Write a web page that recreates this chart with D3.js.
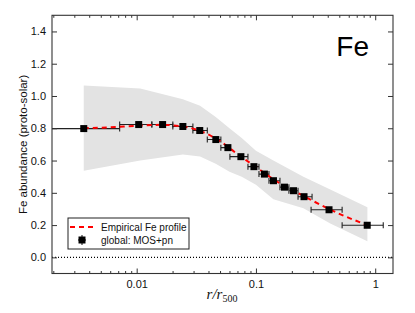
<!DOCTYPE html>
<html>
<head>
<meta charset="utf-8">
<script src="https://cdn.jsdelivr.net/npm/d3@7/dist/d3.min.js"></script>
<style>
  body { margin: 0; background: #fff; }
  svg { display: block; font-family: "Liberation Sans", Arial, sans-serif; }
  .axis path { stroke: #333; stroke-width: 1.1; }
  .axis line { stroke: #333; }
  .axis text { fill: #111; font-size: 11px; }
</style>
</head>
<body>
<svg id="chart" width="415" height="313"></svg>
<script>
// radial bins (r/r500) and Fe abundance, global MOS+pn
const binR   = [0.0036, 0.0104, 0.0165, 0.0244, 0.0338, 0.0461, 0.0582, 0.0748, 0.0962, 0.1178, 0.1403, 0.1735, 0.2066, 0.253, 0.410, 0.857];
const binLo  = [0.0010, 0.0072, 0.0134, 0.0201, 0.0296, 0.0391, 0.0508, 0.0605, 0.0857, 0.106, 0.1286, 0.159, 0.189, 0.2254, 0.290, 0.528];
const binHi  = [0.0072, 0.0134, 0.0201, 0.0296, 0.0391, 0.0508, 0.0605, 0.0857, 0.106, 0.1286, 0.159, 0.189, 0.2254, 0.2955, 0.528, 1.168];
const feVal  = [0.798, 0.823, 0.823, 0.811, 0.786, 0.730, 0.680, 0.624, 0.562, 0.516, 0.475, 0.435, 0.413, 0.376, 0.295, 0.199];
const feErr  = [0.012, 0.010, 0.010, 0.010, 0.010, 0.010, 0.010, 0.010, 0.010, 0.010, 0.010, 0.010, 0.010, 0.010, 0.012, 0.015];

// scatter envelope
const bandR  = [0.0036, 0.0107, 0.0244, 0.034, 0.046, 0.060, 0.076, 0.100, 0.140, 0.250, 0.420, 0.860];
const bandHi = [1.065, 1.047, 0.980, 0.940, 0.870, 0.800, 0.740, 0.660, 0.600, 0.500, 0.420, 0.310];
const bandLo = [0.537, 0.600, 0.637, 0.625, 0.580, 0.530, 0.500, 0.450, 0.360, 0.305, 0.210, 0.100];

// empirical profile
const profR  = [0.0036, 0.006, 0.010, 0.016, 0.025, 0.035, 0.050, 0.070, 0.100, 0.150, 0.200, 0.300, 0.500, 0.860];
const profV  = [0.800, 0.806, 0.815, 0.821, 0.810, 0.780, 0.720, 0.640, 0.560, 0.470, 0.420, 0.350, 0.270, 0.200];

const yTicks = [0.0, 0.2, 0.4, 0.6, 0.8, 1.0, 1.2, 1.4];
const xTicks = [0.01, 0.1, 1];

const svg = d3.select("#chart");
const L = 52, R = 393, T = 15.3, B = 273.5;

const x = d3.scaleLog().domain([0.00195, 1.41]).range([L, R]);
const y = d3.scaleLinear().domain([-0.1, 1.5]).range([B, T]);

const minor = [];
[0.001, 0.01, 0.1, 1].forEach(d => { for (let k = 1; k < 10; k++) { const v = d * k; if (v > 0.00195 && v < 1.41 && k > 1) minor.push(v); } });

const clip = svg.append("clipPath").attr("id", "clip")
  .append("rect").attr("x", L).attr("y", T).attr("width", R - L).attr("height", B - T);
const plot = svg.append("g").attr("clip-path", "url(#clip)");

// band
const area = d3.area()
  .x((d, i) => x(bandR[i])).y0((d, i) => y(bandLo[i])).y1((d, i) => y(bandHi[i]));
plot.append("path").datum(bandR).attr("d", area).attr("fill", "#e3e3e3").attr("stroke", "none");

// zero line
plot.append("line").attr("x1", L).attr("x2", R).attr("y1", y(0)).attr("y2", y(0))
  .attr("stroke", "#000").attr("stroke-width", 1.1).attr("stroke-dasharray", "1,2");

// error bars
const eb = plot.append("g").attr("stroke", "#222").attr("stroke-width", 1.1);
binR.forEach((r, i) => {
  const cy = y(feVal[i]);
  eb.append("line").attr("x1", x(binLo[i])).attr("x2", x(binHi[i])).attr("y1", cy).attr("y2", cy);
  eb.append("line").attr("x1", x(binLo[i])).attr("x2", x(binLo[i])).attr("y1", cy - 3).attr("y2", cy + 3);
  eb.append("line").attr("x1", x(binHi[i])).attr("x2", x(binHi[i])).attr("y1", cy - 3).attr("y2", cy + 3);
  eb.append("line").attr("x1", x(r)).attr("x2", x(r)).attr("y1", y(feVal[i] - feErr[i])).attr("y2", y(feVal[i] + feErr[i]));
});

// profile
const line = d3.line().x((d, i) => x(profR[i])).y((d, i) => y(profV[i])).curve(d3.curveMonotoneX);
plot.append("path").datum(profR).attr("d", line).attr("fill", "none")
  .attr("stroke", "#ff0000").attr("stroke-width", 2).attr("stroke-dasharray", "5,4");

// markers
plot.selectAll("rect.pt").data(binR).enter().append("rect").attr("class", "pt")
  .attr("x", d => x(d) - 3.5).attr("y", (d, i) => y(feVal[i]) - 3.5)
  .attr("width", 7).attr("height", 7).attr("fill", "#000");

// axes
const fmtX = d => d3.format("~g")(d);
svg.append("g").attr("class", "axis").attr("transform", `translate(0,${B})`)
  .call(d3.axisBottom(x).tickValues(xTicks).tickSize(-5).tickPadding(7).tickFormat(fmtX));
svg.append("g").attr("class", "axis").attr("transform", `translate(0,${B})`)
  .call(d3.axisBottom(x).tickValues(minor).tickSize(-2.5).tickFormat(""))
  .call(g => g.select(".domain").remove());
svg.append("g").attr("class", "axis").attr("transform", `translate(0,${T})`)
  .call(d3.axisTop(x).tickValues(xTicks).tickSize(-5).tickFormat(""));
svg.append("g").attr("class", "axis").attr("transform", `translate(0,${T})`)
  .call(d3.axisTop(x).tickValues(minor).tickSize(-2.5).tickFormat(""))
  .call(g => g.select(".domain").remove());
svg.append("g").attr("class", "axis").attr("transform", `translate(${L},0)`)
  .call(d3.axisLeft(y).tickValues(yTicks).tickSize(-5).tickPadding(6).tickFormat(d3.format(".1f")));
svg.append("g").attr("class", "axis").attr("transform", `translate(${R},0)`)
  .call(d3.axisRight(y).tickValues(yTicks).tickSize(-5).tickFormat(""));
svg.selectAll(".axis .domain").attr("d", null);
svg.append("rect").attr("x", L).attr("y", T).attr("width", R - L).attr("height", B - T)
  .attr("fill", "none").attr("stroke", "#333").attr("stroke-width", 1.1);

// labels
svg.append("text").attr("x", 369).attr("y", 56).attr("text-anchor", "end")
  .style("font-size", "28px").attr("fill", "#000").text("Fe");

svg.append("text").attr("transform", "rotate(-90)").attr("x", -(T + B) / 2).attr("y", 27)
  .attr("text-anchor", "middle").style("font-size", "11.5px").attr("fill", "#111")
  .text("Fe abundance (proto-solar)");

const xl = svg.append("text").attr("x", 222).attr("y", 299).attr("text-anchor", "middle")
  .style("font-family", "'Liberation Serif', 'DejaVu Serif', serif").style("font-size", "15px").attr("fill", "#111");
xl.append("tspan").style("font-style", "italic").text("r/r");
xl.append("tspan").attr("dy", 3).style("font-size", "10px").text("500");

// legend
const lg = svg.append("g").attr("transform", "translate(68,218)");
lg.append("rect").attr("width", 121).attr("height", 31).attr("fill", "#fff").attr("stroke", "#222").attr("stroke-width", 1);
lg.append("line").attr("x1", 2).attr("x2", 25).attr("y1", 9).attr("y2", 9)
  .attr("stroke", "#ff0000").attr("stroke-width", 2).attr("stroke-dasharray", "5,4");
lg.append("line").attr("x1", 14).attr("x2", 14).attr("y1", 17).attr("y2", 27).attr("stroke", "#222").attr("stroke-width", 1.1);
lg.append("line").attr("x1", 10).attr("x2", 18).attr("y1", 22).attr("y2", 22).attr("stroke", "#222").attr("stroke-width", 1.1);
lg.append("rect").attr("x", 10.5).attr("y", 18.5).attr("width", 7).attr("height", 7).attr("fill", "#000");
lg.append("text").attr("x", 33).attr("y", 12.5).style("font-size", "10px").attr("fill", "#111").text("Empirical Fe profile");
lg.append("text").attr("x", 33).attr("y", 26).style("font-size", "10px").attr("fill", "#111").text("global: MOS+pn");
</script>
</body>
</html>
